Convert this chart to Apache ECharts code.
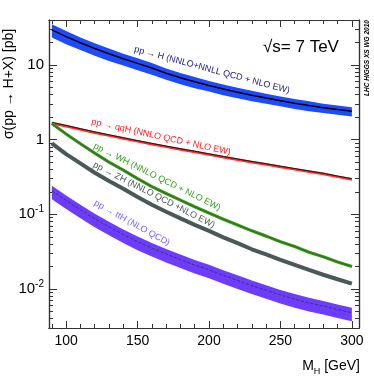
<!DOCTYPE html>
<html>
<head>
<meta charset="UTF-8">
<title>LHC Higgs XS 7 TeV</title>
<script src="https://cdn.jsdelivr.net/npm/echarts@6/dist/echarts.min.js"></script>
<style>
    body{ margin:0; background:#fff; }
    #main{ width:374px; height:381px; }
</style>
</head>
<body>
<div id="main"></div>
<script type="text/javascript">
    // Higgs mass points [GeV]
    var mass = [90,100,110,120,130,140,150,160,170,180,190,200,210,220,230,240,250,260,270,280,290,300];
    // cross sections [pb]
    var ggH = [29.5,24.0,19.8,16.6,14.1,12.1,10.5,9.1,7.75,6.75,5.95,5.3,4.75,4.3,3.92,3.6,3.32,3.07,2.86,2.68,2.53,2.40];
    var qqH = [1.70,1.55,1.40,1.27,1.16,1.06,0.97,0.89,0.82,0.755,0.70,0.645,0.595,0.55,0.51,0.475,0.44,0.41,0.38,0.355,0.325,0.30];
    var WH  = [1.64,1.19,0.88,0.66,0.50,0.39,0.30,0.235,0.19,0.155,0.126,0.104,0.086,0.072,0.060,0.051,0.043,0.037,0.031,0.027,0.023,0.020];
    var ZH  = [0.89,0.64,0.48,0.36,0.28,0.22,0.17,0.134,0.108,0.088,0.072,0.060,0.049,0.041,0.034,0.029,0.0245,0.021,0.018,0.0155,0.0135,0.0118];
    var ttH = [0.206,0.153,0.115,0.087,0.068,0.0535,0.043,0.0353,0.0294,0.0247,0.0209,0.018,0.0152,0.013,0.0111,0.0096,0.0083,0.0073,0.0065,0.0059,0.0053,0.0048];
    // uncertainty bands [%]
    var ggHUp = [19,19,18,18,18,17,17,17,16,16,16,15,15,15,15,14,14,14,14,13,13,13];
    var ggHDn = [21,21,20,20,20,19,19,19,18,18,18,17,17,17,17,16,16,16,16,15,15,15];
    var qqHUp = [2,2,2,2,2,2,2,2,2,2,2,2,2,2,2,2,2,2,2,2,2,2];
    var qqHDn = [6,6,6,6,6,6,6,6,6,6,6,6,6,6,6,6,6,6,6,6,6,6];
    var ttHUp = [17,17,17,17,17,17,17,17,17,17,17,17,17,17,17,17,17,17,17,17,17,17];
    var ttHDn = [23,23,23,23,23,23,23,23,23,23,23,23,23,23,23,23,23,23,23,23,23,23];
    // ticks
    var xMajor = [100,150,200,250,300];
    var xMinor = [90,110,120,130,140,160,170,180,190,210,220,230,240,260,270,280,290];
    var yMajor = [0.01,0.1,1,10];
    var yMinor = [0.003,0.004,0.005,0.006,0.007,0.008,0.009,0.02,0.03,0.04,0.05,0.06,0.07,0.08,0.09,
                  0.2,0.3,0.4,0.5,0.6,0.7,0.8,0.9,2,3,4,5,6,7,8,9,20,30];

    var FONT = '"Liberation Sans", Arial, sans-serif';
    var myChart = echarts.init(document.getElementById('main'));

    function pairs(v){
        return mass.map(function(m,i){ return [m, v[i]]; });
    }
    // band: one polygon through upper edge then lower edge, via the axis scales
    function band(v, up, dn, color){
        var rows = mass.map(function(m,i){
            return [m, v[i]*(1+up[i]/100), v[i]*(1-dn[i]/100)];
        });
        return {
            type:'custom', silent:true, data:[0],
            renderItem:function(params, api){
                var pts = [];
                rows.forEach(function(r){ pts.push(api.coord([r[0], r[1]])); });
                for(var i=rows.length-1;i>=0;i--){ pts.push(api.coord([rows[i][0], rows[i][2]])); }
                return {type:'polygon', shape:{points:pts}, style:{fill:color}};
            }
        };
    }
    function curve(v, color, w, type){
        return {type:'line', data:pairs(v), symbol:'none', silent:true,
                lineStyle:{color:color, width:w, type:type||'solid'}};
    }

    function xAx(grid, pos, ticks, len, label){
        return {type:'value', gridIndex:grid, position:pos, min:88, max:305,
            axisLine:{show:true, lineStyle:{color:'#333', width:1.2}},
            axisTick:{show:true, inside:true, length:len, customValues:ticks, lineStyle:{color:'#333', width:1}},
            axisLabel:{show:label, customValues:xMajor, fontSize:14, color:'#000', fontFamily:FONT, margin:6},
            splitLine:{show:false}};
    }
    function yAx(grid, pos, ticks, len, label){
        return {type:'log', gridIndex:grid, position:pos, min:0.003, max:40,
            axisLine:{show:true, lineStyle:{color:'#333', width:1.2}},
            axisTick:{show:true, inside:true, length:len, customValues:ticks, lineStyle:{color:'#333', width:1}},
            axisLabel:{show:label, customValues:yMajor, color:'#000', fontFamily:FONT, margin:5,
                formatter:function(v){
                    if(v >= 9) return '{n|10}';
                    if(v >= 0.9) return '{n|1}';
                    if(v >= 0.09) return '{n|10}{s|-1}';
                    return '{n|10}{s|-2}';
                },
                rich:{
                    n:{fontSize:15, fontFamily:FONT, color:'#000', lineHeight:20},
                    s:{fontSize:10, fontFamily:FONT, color:'#000', lineHeight:20, verticalAlign:'top'}
                }},
            splitLine:{show:false}};
    }

    var option = {
        backgroundColor:'#fff',
        animation:false,
        grid:[
            {left:49, right:15, top:20, bottom:53},
            {left:49, right:15, top:20, bottom:53}
        ],
        xAxis:[
            xAx(0,'bottom',xMajor,7,true),
            xAx(0,'top',xMajor,7,false),
            xAx(1,'bottom',xMinor,4,false),
            xAx(1,'top',xMinor,4,false)
        ],
        yAxis:[
            yAx(0,'left',yMajor,8,true),
            yAx(0,'right',yMajor,8,false),
            yAx(1,'left',yMinor,4,false),
            yAx(1,'right',yMinor,4,false)
        ],
        series: [
            band(ggH, ggHUp, ggHDn, '#1f4bff'),
            curve(ggH, '#000', 1.5),
            band(qqH, qqHUp, qqHDn, '#ff2a2a'),
            curve(qqH, '#1a1a1a', 1),
            curve(WH, '#3c9a1c', 3.2),
            curve(WH, '#2a5a1a', 0.8),
            curve(ZH, '#4a5858', 4),
            band(ttH, ttHUp, ttHDn, '#6e3cff'),
            curve(ttH, '#333', 0.8, 'dashed')
        ],
        graphic:[
            {type:'text', x:9, y:84, rotation:Math.PI/2,
             style:{text:'σ(pp → H+X) [pb]', fontSize:14, fontFamily:FONT, fill:'#000',
                    align:'center', verticalAlign:'middle', textAlign:'center', textVerticalAlign:'middle'}},
            {type:'text', x:263, y:47,
             style:{text:'√s= 7 TeV', fontSize:17, fontFamily:FONT, fill:'#000',
                    align:'left', verticalAlign:'middle', textAlign:'left', textVerticalAlign:'middle'}},
            {type:'text', x:367, y:58, rotation:Math.PI/2,
             style:{text:'LHC HIGGS XS WG 2010', fontSize:6.5, fontWeight:'bold', fontStyle:'italic', fontFamily:FONT, fill:'#000',
                    align:'center', verticalAlign:'middle', textAlign:'center', textVerticalAlign:'middle'}},
            {type:'text', x:360, y:366,
             style:{text:'{a|M}{b|H}{a| [GeV]}', fontFamily:FONT, fill:'#000',
                    align:'right', verticalAlign:'middle', textAlign:'right', textVerticalAlign:'middle',
                    rich:{a:{fontSize:14, fontFamily:FONT, lineHeight:20, verticalAlign:'middle'},
                          b:{fontSize:9, fontFamily:FONT, lineHeight:20, verticalAlign:'bottom'}}}},
            {type:'text', x:212, y:70, rotation:-15*Math.PI/180,
             style:{text:'pp → H (NNLO+NNLL QCD + NLO EW)', fontSize:9, fontFamily:FONT, fill:'#1a1a80',
                    align:'center', verticalAlign:'middle', textAlign:'center', textVerticalAlign:'middle'}},
            {type:'text', x:161, y:137, rotation:-12.5*Math.PI/180,
             style:{text:'pp → qqH (NNLO QCD + NLO EW)', fontSize:9, fontFamily:FONT, fill:'#ff2020',
                    align:'center', verticalAlign:'middle', textAlign:'center', textVerticalAlign:'middle'}},
            {type:'text', x:157, y:177, rotation:-26.5*Math.PI/180,
             style:{text:'pp → WH (NNLO QCD + NLO EW)', fontSize:9, fontFamily:FONT, fill:'#33a020',
                    align:'center', verticalAlign:'middle', textAlign:'center', textVerticalAlign:'middle'}},
            {type:'text', x:154, y:195, rotation:-27*Math.PI/180,
             style:{text:'pp → ZH (NNLO QCD +NLO EW)', fontSize:9, fontFamily:FONT, fill:'#4a5858',
                    align:'center', verticalAlign:'middle', textAlign:'center', textVerticalAlign:'middle'}},
            {type:'text', x:132, y:223, rotation:-29*Math.PI/180,
             style:{text:'pp → ttH (NLO QCD)', fontSize:9, fontFamily:FONT, fill:'#8060ff',
                    align:'center', verticalAlign:'middle', textAlign:'center', textVerticalAlign:'middle'}}
        ]
    };
    myChart.setOption(option);
</script>
</body>
</html>
